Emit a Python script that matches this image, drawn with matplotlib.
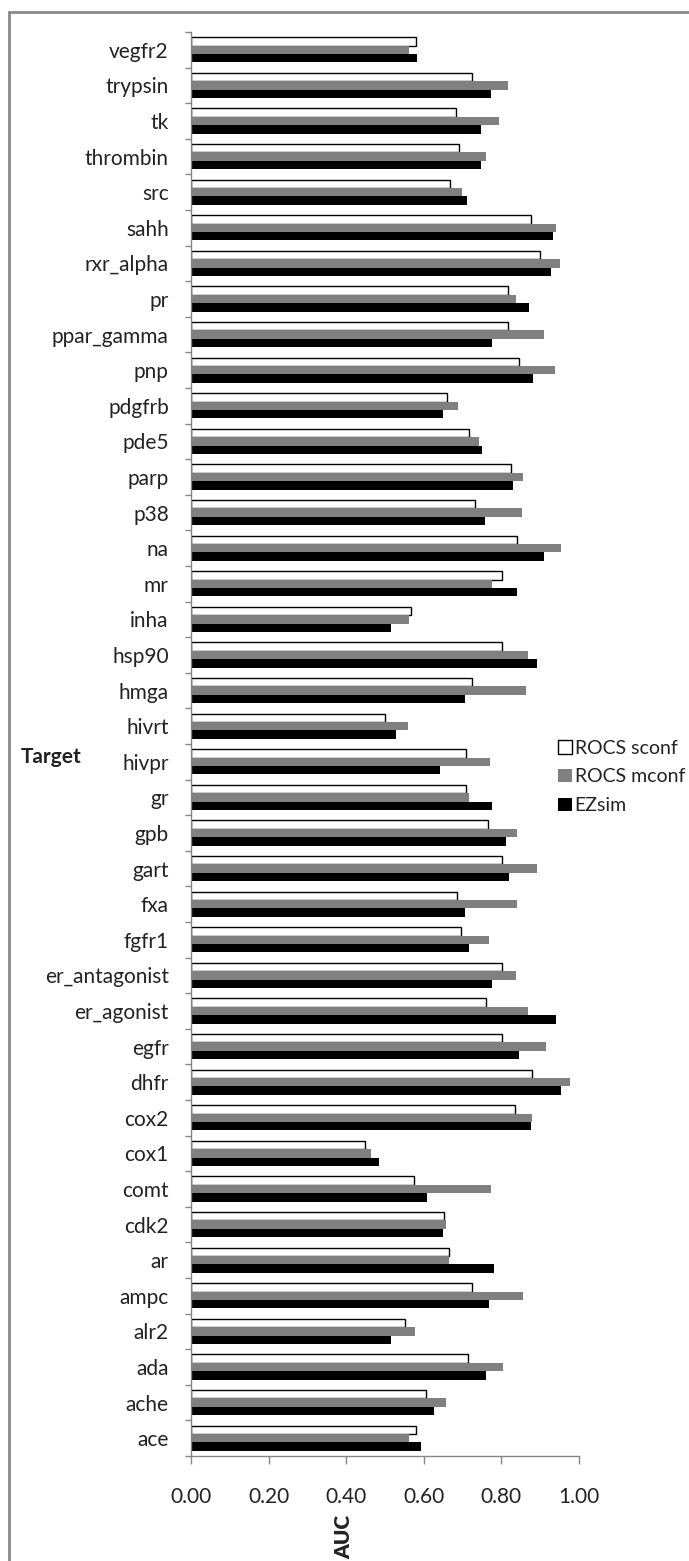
import numpy as np
import matplotlib
matplotlib.use("Agg")
import matplotlib.pyplot as plt
from matplotlib.patches import Rectangle

plt.rcParams['font.family'] = ['Lato', 'DejaVu Sans']

# Targets listed bottom -> top as drawn on the chart
targets = ['ace', 'ache', 'ada', 'alr2', 'ampc', 'ar', 'cdk2', 'comt', 'cox1', 'cox2',
           'dhfr', 'egfr', 'er_agonist', 'er_antagonist', 'fgfr1', 'fxa', 'gart', 'gpb',
           'gr', 'hivpr', 'hivrt', 'hmga', 'hsp90', 'inha', 'mr', 'na', 'p38', 'parp',
           'pde5', 'pdgfrb', 'pnp', 'ppar_gamma', 'pr', 'rxr_alpha', 'sahh', 'src',
           'thrombin', 'tk', 'trypsin', 'vegfr2']

rocs_sconf = [0.579, 0.606, 0.715, 0.552, 0.724, 0.665, 0.652, 0.574, 0.448, 0.834,
              0.879, 0.802, 0.760, 0.802, 0.697, 0.686, 0.802, 0.765,
              0.710, 0.708, 0.499, 0.725, 0.802, 0.567, 0.802, 0.839, 0.733, 0.825,
              0.716, 0.661, 0.846, 0.816, 0.817, 0.900, 0.877, 0.667,
              0.691, 0.683, 0.725, 0.579]

rocs_mconf = [0.561, 0.657, 0.803, 0.578, 0.856, 0.666, 0.657, 0.773, 0.464, 0.879,
              0.977, 0.916, 0.868, 0.838, 0.768, 0.841, 0.891, 0.841,
              0.717, 0.770, 0.559, 0.864, 0.868, 0.561, 0.776, 0.954, 0.854, 0.856,
              0.743, 0.689, 0.939, 0.910, 0.837, 0.951, 0.942, 0.698,
              0.760, 0.793, 0.818, 0.563]

ezsim = [0.594, 0.627, 0.760, 0.516, 0.768, 0.781, 0.649, 0.607, 0.484, 0.877,
         0.954, 0.845, 0.942, 0.776, 0.716, 0.706, 0.820, 0.811,
         0.776, 0.641, 0.528, 0.706, 0.891, 0.516, 0.841, 0.910, 0.758, 0.830,
         0.751, 0.649, 0.882, 0.776, 0.870, 0.929, 0.934, 0.712,
         0.747, 0.747, 0.773, 0.583]

xticks = [0.0, 0.2, 0.4, 0.6, 0.8, 1.0]

text_color = '#222222'
axis_color = '#868686'

fig = plt.figure(figsize=(6.89, 15.61), dpi=100)
ax = fig.add_axes([191 / 689, 1 - 1456 / 1561, 388 / 689, 1424 / 1561])

y = np.arange(len(targets))
h = 0.235
ax.barh(y + h, rocs_sconf, height=h, color='white', edgecolor='black', linewidth=1.0,
        label='ROCS sconf')
ax.barh(y, rocs_mconf, height=h, color='#808080', label='ROCS mconf')
ax.barh(y - h, ezsim, height=h, color='black', label='EZsim')

ax.set_xlim(0, 1)
ax.set_ylim(-0.5, len(targets) - 0.5)

ax.set_yticks(y)
ax.set_yticklabels(targets)
ax.set_yticks(np.arange(len(targets) + 1) - 0.5, minor=True)
ax.tick_params(axis='y', which='major', length=0, pad=16, labelsize=15, labelcolor=text_color)
ax.tick_params(axis='y', which='minor', length=4.5, width=1, color=axis_color, direction='out')

ax.set_xticks(xticks)
ax.set_xticklabels([f"{v:.2f}" for v in xticks])
ax.tick_params(axis='x', length=6, width=1, color=axis_color, pad=16, labelsize=15,
               labelcolor=text_color)

for side in ['top', 'right']:
    ax.spines[side].set_visible(False)
for side in ['left', 'bottom']:
    ax.spines[side].set_color(axis_color)
    ax.spines[side].set_linewidth(1)

# axis titles placed where the reference has them
fig.text(344 / 689, 1 - 1537 / 1561, 'AUC', rotation=90, fontweight='heavy', fontsize=15,
         color=text_color, ha='center', va='center')
fig.text(51 / 689, 1 - 757 / 1561, 'Target', fontweight='bold', fontsize=15,
         color=text_color, ha='center', va='center')

leg = fig.legend(loc='center left', bbox_to_anchor=(558 / 689, 1 - 777 / 1561),
                 frameon=False, fontsize=14, handlelength=0.7, handleheight=0.7,
                 handletextpad=0.15, labelspacing=0.6, borderpad=0, borderaxespad=0)
for t in leg.get_texts():
    t.set_color(text_color)

# outer chart frame (only top and left edges fall inside the image)
fig.patches.append(Rectangle((9 / 689, -0.05), 1.2, 1 - 12 / 1561 + 0.05,
                             transform=fig.transFigure, fill=False,
                             edgecolor='#8a8a8a', linewidth=2))

plt.savefig('out.png', dpi=100)
plt.close()
